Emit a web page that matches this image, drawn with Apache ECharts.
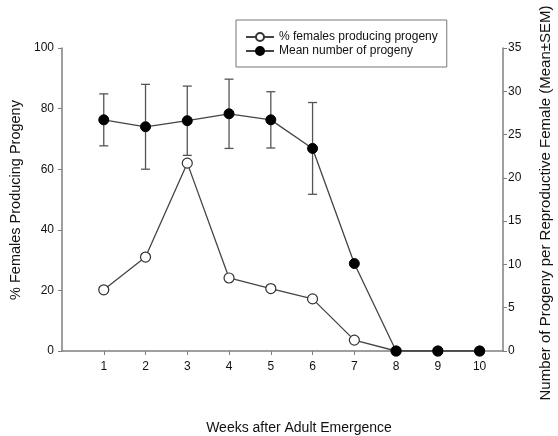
<!DOCTYPE html>
<html><head><meta charset="utf-8">
<script src="https://cdn.jsdelivr.net/npm/echarts@6/dist/echarts.min.js"></script>
<style>html,body{margin:0;padding:0;background:#fff}#c{width:558px;height:436px}</style>
</head><body><div id="c"></div>
<script>
var weeks = [1,2,3,4,5,6,7,8,9,10];
var pctFemales = [20.2,31,62,24.1,20.6,17.2,3.6,0,0,0];
var meanProgeny = [26.7,25.9,26.6,27.4,26.7,23.4,10.1,0,0,0];
var semProgeny = [3.0,4.9,4.0,4.0,3.25,5.3,0,0,0,0];
var leftTicks = [0,20,40,60,80,100];
var rightTicks = [0,5,10,15,20,25,30,35];
var legendNames = ['% females producing progeny','Mean number of progeny'];

var font = 'Liberation Sans, Arial, sans-serif';
var chart = echarts.init(document.getElementById('c'));
var errData = weeks.map(function(w,i){return [w, meanProgeny[i]-semProgeny[i], meanProgeny[i]+semProgeny[i], semProgeny[i]];}).filter(function(d){return d[3]>0;});
var axisCol = '#7f7f7f';
chart.setOption({
  animation:false,
  textStyle:{fontFamily:font},
  grid:{left:62,right:55,top:48,bottom:85},
  legend:{
    orient:'vertical', left:236, top:20,
    padding:[11,9,10,9], itemGap:2, itemWidth:28, itemHeight:10,
    borderColor:'#777', borderWidth:1,
    textStyle:{fontSize:12,color:'#111',fontFamily:font, lineHeight:11},
    data:legendNames
  },
  xAxis:{
    type:'value', min:0, max:10.56, interval:1,
    axisLine:{lineStyle:{color:axisCol,width:1.5}},
    axisTick:{length:4, lineStyle:{color:axisCol}, customValues:weeks},
    axisLabel:{customValues:weeks, color:'#111', fontSize:12, margin:10, fontFamily:font},
    splitLine:{show:false}
  },
  yAxis:[{
    type:'value', min:0, max:100, interval:20, position:'left',
    axisLine:{show:true,lineStyle:{color:axisCol,width:1.5}},
    axisTick:{show:true,length:4, lineStyle:{color:axisCol}},
    axisLabel:{color:'#111', fontSize:12, margin:8, fontFamily:font},
    splitLine:{show:false}
  },{
    type:'value', min:0, max:35, interval:5, position:'right',
    axisLine:{show:true,lineStyle:{color:axisCol,width:1.5}},
    axisTick:{show:true,length:4, lineStyle:{color:axisCol}},
    axisLabel:{color:'#111', fontSize:12, margin:5, fontFamily:font},
    splitLine:{show:false}
  }],
  series:[{
    name:legendNames[0], type:'line', yAxisIndex:0,
    data:weeks.map(function(w,i){return [w,pctFemales[i]];}),
    symbol:'circle', symbolSize:10,
    lineStyle:{color:'#444',width:1.3},
    itemStyle:{color:'#fff',borderColor:'#333',borderWidth:1.2},
    z:2
  },{
    name:'err', type:'custom', yAxisIndex:1, data:errData, z:3,
    renderItem:function(params, api){
      var x = api.value(0);
      var lo = api.coord([x, api.value(1)]);
      var hi = api.coord([x, api.value(2)]);
      var hw = 4.5;
      var st = {stroke:'#555', lineWidth:1.3};
      return {type:'group', children:[
        {type:'line', shape:{x1:lo[0],y1:lo[1],x2:hi[0],y2:hi[1]}, style:st},
        {type:'line', shape:{x1:hi[0]-hw,y1:hi[1],x2:hi[0]+hw,y2:hi[1]}, style:st},
        {type:'line', shape:{x1:lo[0]-hw,y1:lo[1],x2:lo[0]+hw,y2:lo[1]}, style:st}
      ]};
    }
  },{
    name:legendNames[1], type:'line', yAxisIndex:1,
    data:weeks.map(function(w,i){return [w,meanProgeny[i]];}),
    symbol:'circle', symbolSize:10,
    lineStyle:{color:'#444',width:1.3},
    itemStyle:{color:'#000',borderColor:'#000',borderWidth:1},
    z:4
  }],
  graphic:[
    {type:'text', x:16, y:200, rotation:Math.PI/2, style:{text:'% Females Producing Progeny', font:'14.5px '+font, fill:'#111', textAlign:'center', textVerticalAlign:'middle'}},
    {type:'text', x:546, y:203, rotation:Math.PI/2, style:{text:'Number of Progeny per Reproductive Female (Mean\u00b1SEM)', font:'15px '+font, fill:'#111', textAlign:'center', textVerticalAlign:'middle'}},
    {type:'text', x:299, y:428, style:{text:'Weeks after Adult Emergence', font:'14px '+font, fill:'#111', textAlign:'center', textVerticalAlign:'middle'}}
  ]
});
</script></body></html>
